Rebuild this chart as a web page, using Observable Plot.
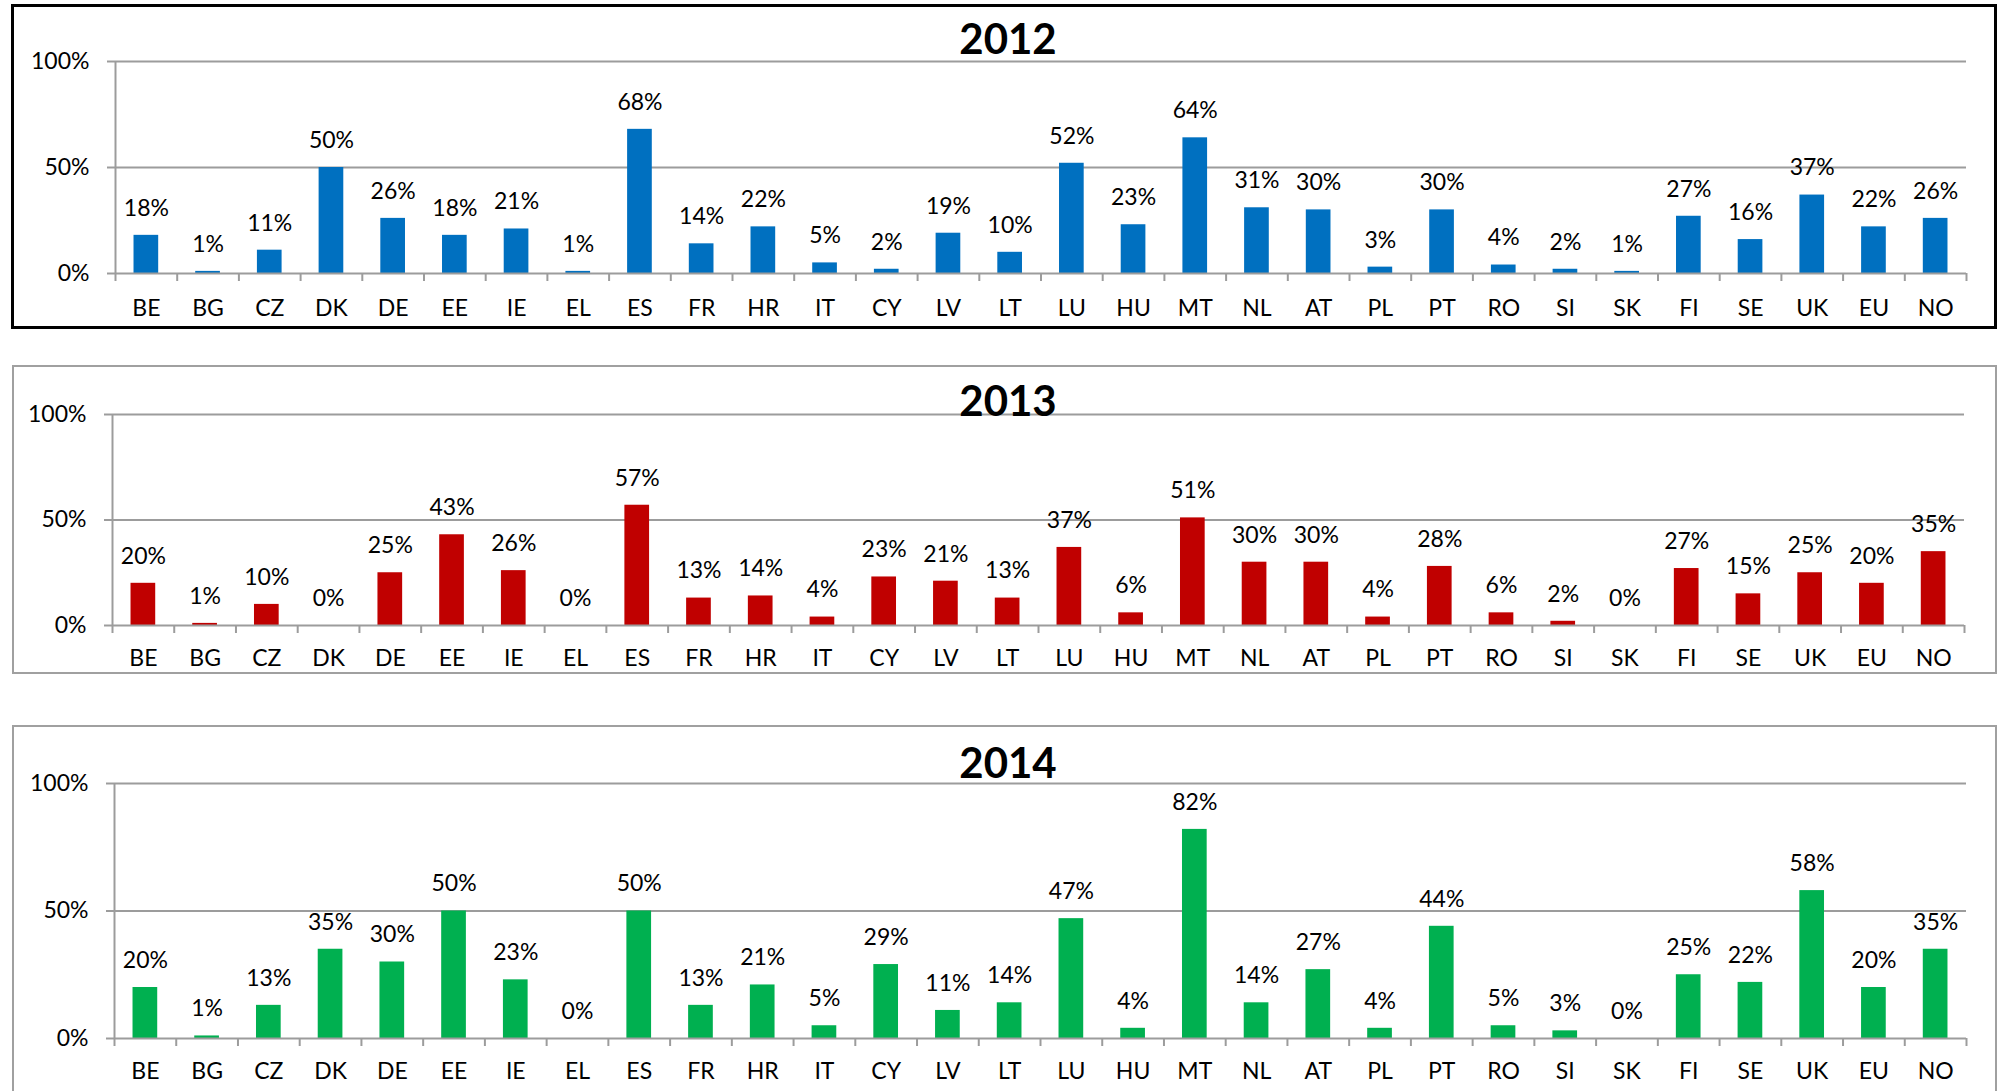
<!DOCTYPE html>
<html>
<head>
<meta charset="utf-8">
<script src="https://cdn.jsdelivr.net/npm/d3@7"></script>
<script src="https://cdn.jsdelivr.net/npm/@observablehq/plot@0.6"></script>
<style>
  html, body { margin: 0; padding: 0; background: #fff; }
  #page { position: relative; width: 2000px; height: 1091px; overflow: hidden; background: #fff; font-family: Lato, "Open Sans", sans-serif; }
  .panel { position: absolute; box-sizing: border-box; background: transparent; z-index: 2; }
  .chart { position: absolute; left: 0; z-index: 1; }
  .title { position: absolute; left: 0; width: 2016px; text-align: center; font-weight: 700; font-size: 42px; line-height: 1; color: #000; z-index: 3; }
</style>
</head>
<body>
<div id="page"></div>
<script>
// ---- Data ----
const categories = ["BE","BG","CZ","DK","DE","EE","IE","EL","ES","FR","HR","IT","CY","LV","LT","LU","HU","MT","NL","AT","PL","PT","RO","SI","SK","FI","SE","UK","EU","NO"];
const years = ["2012", "2013", "2014"];
const values2012 = [18, 1, 11, 50, 26, 18, 21, 1, 68, 14, 22, 5, 2, 19, 10, 52, 23, 64, 31, 30, 3, 30, 4, 2, 1, 27, 16, 37, 22, 26];
const values2013 = [20, 1, 10, 0, 25, 43, 26, 0, 57, 13, 14, 4, 23, 21, 13, 37, 6, 51, 30, 30, 4, 28, 6, 2, 0, 27, 15, 25, 20, 35];
const values2014 = [20, 1, 13, 35, 30, 50, 23, 0, 50, 13, 21, 5, 29, 11, 14, 47, 4, 82, 14, 27, 4, 44, 5, 3, 0, 25, 22, 58, 20, 35];
const yTicks = [0, 50, 100];

// ---- Layout / style ----
const GRID = "#9c9c9c";
const FONT = "Lato, 'Open Sans', sans-serif";
const panels = [
  {year: years[0], values: values2012, color: "#0070C0", svgTop: 0,   height: 330, mt: 61, mb: 57, ml: 115, mr: 34, pad: 26,
   box: {left: 11, top: 4, width: 1986, height: 325, border: "3px solid #000"}, titleTop: 17},
  {year: years[1], values: values2013, color: "#C00000", svgTop: 340, height: 340, mt: 74, mb: 55, ml: 112, mr: 36, pad: 24,
   box: {left: 12, top: 365, width: 1985, height: 309, border: "2px solid #a0a0a0"}, titleTop: 379},
  {year: years[2], values: values2014, color: "#00B050", svgTop: 700, height: 391, mt: 83, mb: 53, ml: 114, mr: 34, pad: 24,
   box: {left: 12, top: 725, width: 1985, height: 420, border: "2px solid #a0a0a0"}, titleTop: 741}
];

const page = document.getElementById("page");

for (const p of panels) {
  const data = categories.map((c, i) => ({country: c, value: p.values[i]}));
  const step = (2000 - p.ml - p.mr) / categories.length;

  const chart = Plot.plot({
    width: 2000,
    height: p.height,
    marginTop: p.mt,
    marginBottom: p.mb,
    marginLeft: p.ml,
    marginRight: p.mr,
    style: {fontFamily: FONT, fontSize: "23px", color: "#000", background: "transparent", overflow: "visible"},
    x: {type: "band", domain: categories, paddingInner: 0.6, paddingOuter: 0.3, round: false, label: null},
    y: {domain: [0, 100], label: null},
    marks: [
      Plot.ruleY(yTicks.filter(t => t > 0), {stroke: GRID, strokeWidth: 2}),
      Plot.barY(data, {x: "country", y: "value", fill: p.color}),
      Plot.ruleY([0], {stroke: GRID, strokeWidth: 2}),
      Plot.ruleX([categories[0]], {y1: 0, y2: 100, dx: -step / 2, stroke: GRID, strokeWidth: 2}),
      Plot.axisY({ticks: yTicks, tickSize: 8, tickPadding: 18, tickFormat: d => d + "%", stroke: GRID, strokeWidth: 2, fill: "#000", fontSize: 23, label: null}),
      Plot.axisX({tickSize: 8, tickFormat: () => "", dx: -step / 2, stroke: GRID, strokeWidth: 2, label: null}),
      Plot.axisX({ticks: [categories[categories.length - 1]], tickSize: 8, tickFormat: () => "", dx: step / 2, stroke: GRID, strokeWidth: 2, label: null}),
      Plot.axisX({tickSize: 0, tickPadding: p.pad, fill: "#000", fontSize: 23, label: null}),
      Plot.text(data, {x: "country", y: "value", text: d => d.value + "%", dy: -27, fill: "#000", fontSize: 23})
    ]
  });
  chart.classList.add("chart");
  chart.style.top = p.svgTop + "px";
  page.appendChild(chart);

  const box = document.createElement("div");
  box.className = "panel";
  Object.assign(box.style, {left: p.box.left + "px", top: p.box.top + "px", width: p.box.width + "px", height: p.box.height + "px", border: p.box.border});
  page.appendChild(box);

  const title = document.createElement("div");
  title.className = "title";
  title.style.top = p.titleTop + "px";
  title.textContent = p.year;
  page.appendChild(title);
}
</script>
</body>
</html>
